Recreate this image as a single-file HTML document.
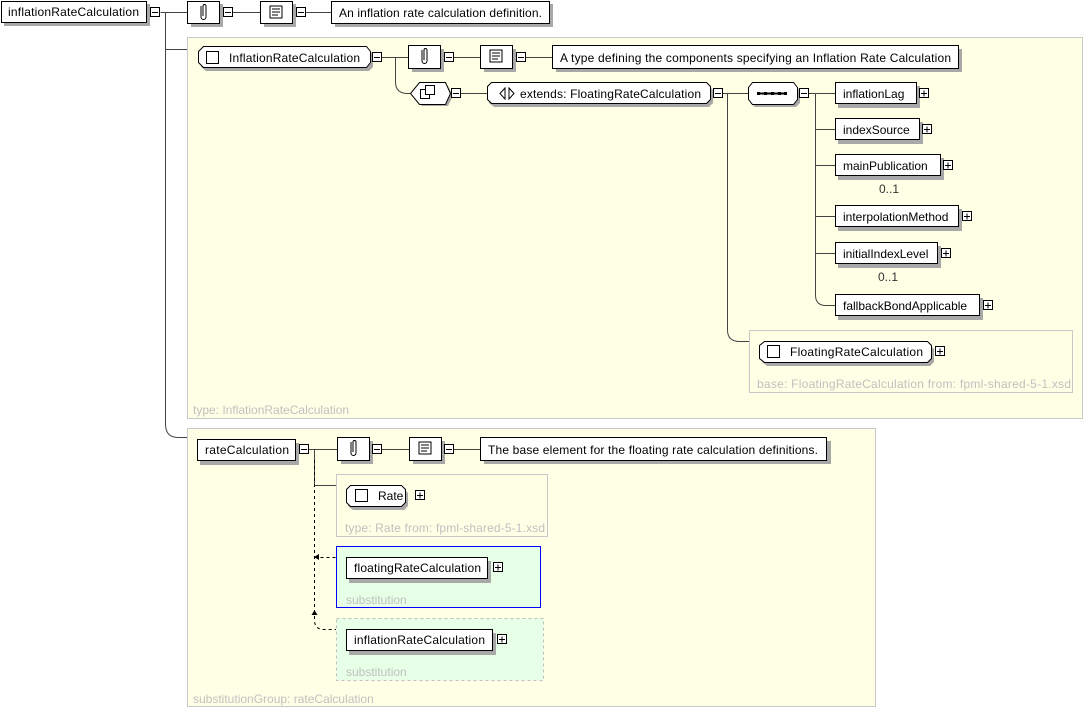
<!DOCTYPE html>
<html><head><style>
body{margin:0;background:#fff;}
svg{display:block;font-family:"Liberation Sans",sans-serif;font-size:12px;}
.b{fill:#fff;stroke:#000;stroke-width:1}
.s{fill:#a8a8a8}
.l{stroke:#444;fill:none;stroke-width:1}
.g{fill:#c0c0c0}
.pm{fill:#fff;stroke:#000}
</style></head><body>
<svg width="1084" height="708" viewBox="0 0 1084 708">
<rect x="187.5" y="37.5" width="895" height="381" fill="#ffffe6" stroke="#c8c8c8"/>
<text x="193" y="414" class="g">type: InflationRateCalculation</text>
<rect x="187.5" y="428.5" width="688" height="278" fill="#ffffe6" stroke="#c8c8c8"/>
<text x="193" y="703" class="g">substitutionGroup: rateCalculation</text>
<rect x="749.5" y="330.5" width="323" height="62" fill="#ffffe6" stroke="#c8c8c8"/>
<text x="757" y="388" class="g" textLength="314">base: FloatingRateCalculation from: fpml-shared-5-1.xsd</text>
<rect x="336.5" y="474.5" width="211" height="62" fill="#ffffe6" stroke="#c8c8c8"/>
<text x="345" y="532" class="g" textLength="200">type: Rate from: fpml-shared-5-1.xsd</text>
<rect x="336.5" y="546.5" width="204" height="61" fill="#e6ffe6" stroke="#0000ff"/>
<text x="346" y="604" class="g">substitution</text>
<rect x="336.5" y="618.5" width="207" height="62" fill="#e6ffe6" stroke="#c0c0c0" stroke-dasharray="3,3"/>
<text x="346" y="676" class="g">substitution</text>

<g class="l">
<path d="M160.5 12.5H187M220 12.5H260M306 12.5H331"/>
<path d="M165.5 12V424Q165.5 437.5 178 437.5H187M165.5 49.5H187"/>
<path d="M382 57.5H408M454 57.5H480M526 57.5H552"/>
<path d="M395.5 57V82Q395.5 93.5 408 93.5H412M461 93.5H487M723 93.5H748M809 93.5H835"/>
<path d="M815.5 93V295Q815.5 305.5 826 305.5H835M815.5 129.5H835M815.5 165.5H835M815.5 216.5H835M815.5 253.5H835"/>
<path d="M727.5 93V330Q727.5 341.5 740 341.5H749"/>
<path d="M309 449.5H337M382 449.5H409M454 449.5H480"/>
<path d="M314.5 449V485.5H336"/>
<path d="M314.5 460V620Q314.5 629.5 324 629.5H336M314.5 557.5H336" stroke="#000" stroke-dasharray="3,3"/>
</g>
<path d="M314 557l5 -3v6z" fill="#000"/>
<path d="M314.5 610l-3 5h6z" fill="#000"/>

<rect x="4" y="4" width="146" height="22" class="s"/>
<rect x="1.5" y="1.5" width="145" height="21" class="b"/>
<text x="8" y="16" textLength="131">inflationRateCalculation</text>
<rect x="150.5" y="7.5" width="9" height="9" class="pm"/><path d="M152 12.5h6" stroke="#000"/>
<rect x="191" y="4" width="32" height="23" class="s"/>
<rect x="187.5" y="1.5" width="32" height="22" class="b"/>
<path d="M201 6v11a2.5 2.5 0 0 0 5 0v-11a1.5 1.5 0 0 0-3 0v10" fill="none" stroke="#000"/>
<rect x="223.5" y="7.5" width="9" height="9" class="pm"/><path d="M225 12.5h6" stroke="#000"/>
<rect x="264" y="4" width="32" height="23" class="s"/>
<rect x="260.5" y="1.5" width="32" height="22" class="b"/>
<path d="M270 6h12v12h-12zM272 9h8M272 12h8M272 15h6" fill="none" stroke="#000"/>
<rect x="296.5" y="7.5" width="9" height="9" class="pm"/><path d="M298 12.5h6" stroke="#000"/>
<rect x="335" y="4" width="218" height="23" class="s"/>
<rect x="331.5" y="1.5" width="218" height="22" class="b"/>
<text x="339" y="17" textLength="203">An inflation rate calculation definition.</text>

<path d="M206 50h163l4 4v13l-4 4h-163l-5-4v-13z" class="s"/>
<path d="M203.5 46.5h163l4 5v11l-4 5h-163l-5-5v-11z" class="b"/>
<rect x="206.5" y="51.5" width="12" height="12" class="pm"/>
<text x="229" y="62" textLength="131">InflationRateCalculation</text>
<rect x="372.5" y="52.5" width="9" height="9" class="pm"/><path d="M374 57.5h6" stroke="#000"/>
<rect x="412" y="49" width="32" height="23" class="s"/>
<rect x="408.5" y="45.5" width="32" height="23" class="b"/>
<path d="M422 50v11a2.5 2.5 0 0 0 5 0v-11a1.5 1.5 0 0 0-3 0v10" fill="none" stroke="#000"/>
<rect x="444.5" y="52.5" width="9" height="9" class="pm"/><path d="M446 57.5h6" stroke="#000"/>
<rect x="484" y="49" width="32" height="23" class="s"/>
<rect x="480.5" y="45.5" width="32" height="23" class="b"/>
<path d="M490 50h12v12h-12zM492 53h8M492 56h8M492 59h6" fill="none" stroke="#000"/>
<rect x="516.5" y="52.5" width="9" height="9" class="pm"/><path d="M518 57.5h6" stroke="#000"/>
<rect x="556" y="49" width="406" height="23" class="s"/>
<rect x="552.5" y="45.5" width="406" height="23" class="b"/>
<text x="560" y="62" textLength="391">A type defining the components specifying an Inflation Rate Calculation</text>

<path d="M422 86h26l5 10l-5 10h-26l-8-10z" class="s"/>
<path d="M419.5 82.5h26l5 11l-5 11h-26l-9-11z" class="b"/>
<rect x="420.5" y="89.5" width="9" height="9" class="pm"/><rect x="425.5" y="85.5" width="9" height="9" class="pm"/>
<rect x="451.5" y="88.5" width="9" height="9" class="pm"/><path d="M453 93.5h6" stroke="#000"/>
<path d="M494 86h215l4 4v13l-4 4h-215l-5-4v-13z" class="s"/>
<path d="M491.5 82.5h215l4 4v13l-4 4h-215l-4-4v-13z" class="b"/>
<path d="M505 88l-5 5.5l5 5.5zM509 88l5 5.5l-5 5.5z" fill="none" stroke="#000"/>
<text x="520" y="98" textLength="181">extends: FloatingRateCalculation</text>
<rect x="713.5" y="88.5" width="9" height="9" class="pm"/><path d="M715 93.5h6" stroke="#000"/>
<path d="M755 86h41l4 5v12l-4 4h-41l-5-4v-12z" class="s"/>
<path d="M752.5 82.5h41l4 5v12l-4 5h-41l-4-5v-12z" class="b"/>
<path d="M758 93.5h27" stroke="#000" stroke-width="2"/>
<rect x="757" y="92" width="3" height="3"/><rect x="764" y="92" width="3" height="3"/><rect x="771" y="92" width="3" height="3"/><rect x="778" y="92" width="3" height="3"/><rect x="784" y="92" width="3" height="3"/>
<rect x="799.5" y="88.5" width="9" height="9" class="pm"/><path d="M801 93.5h6" stroke="#000"/>

<g>
<rect x="838" y="86" width="82" height="22" class="s"/><rect x="835.5" y="82.5" width="81" height="21" class="b"/><text x="843" y="98">inflationLag</text>
<rect x="919.5" y="88.5" width="9" height="9" class="pm"/><path d="M921 93.5h6M924 90.5v6" stroke="#000"/>
<rect x="838" y="122" width="85" height="22" class="s"/><rect x="835.5" y="118.5" width="84" height="21" class="b"/><text x="843" y="134">indexSource</text>
<rect x="922.5" y="124.5" width="9" height="9" class="pm"/><path d="M924 129.5h6M927 126.5v6" stroke="#000"/>
<rect x="838" y="158" width="106" height="22" class="s"/><rect x="835.5" y="154.5" width="105" height="21" class="b"/><text x="843" y="170">mainPublication</text>
<rect x="943.5" y="160.5" width="9" height="9" class="pm"/><path d="M945 165.5h6M948 162.5v6" stroke="#000"/>
<text x="879" y="193" fill="#333">0..1</text>
<rect x="838" y="209" width="124" height="22" class="s"/><rect x="835.5" y="205.5" width="123" height="21" class="b"/><text x="843" y="221">interpolationMethod</text>
<rect x="962.5" y="211.5" width="9" height="9" class="pm"/><path d="M964 216.5h6M967 213.5v6" stroke="#000"/>
<rect x="838" y="246" width="103" height="22" class="s"/><rect x="835.5" y="242.5" width="102" height="21" class="b"/><text x="843" y="258">initialIndexLevel</text>
<rect x="941.5" y="248.5" width="9" height="9" class="pm"/><path d="M943 253.5h6M946 250.5v6" stroke="#000"/>
<text x="878" y="281" fill="#333">0..1</text>
<rect x="838" y="298" width="145" height="22" class="s"/><rect x="835.5" y="294.5" width="144" height="21" class="b"/><text x="843" y="310">fallbackBondApplicable</text>
<rect x="983.5" y="300.5" width="9" height="9" class="pm"/><path d="M985 305.5h6M988 302.5v6" stroke="#000"/>
</g>

<path d="M767 345h163l4 4v13l-4 4h-163l-5-4v-13z" class="s"/>
<path d="M764.5 341.5h163l4 4v13l-4 4h-163l-5-4v-13z" class="b"/>
<rect x="767.5" y="345.5" width="12" height="12" class="pm"/>
<text x="790" y="356" textLength="133">FloatingRateCalculation</text>
<rect x="935.5" y="346.5" width="9" height="9" class="pm"/><path d="M937 351.5h6M940 348.5v6" stroke="#000"/>

<rect x="200" y="443" width="99" height="22" class="s"/>
<rect x="197.5" y="439.5" width="98" height="21" class="b"/>
<text x="205" y="454" textLength="84">rateCalculation</text>
<rect x="299.5" y="444.5" width="9" height="9" class="pm"/><path d="M301 449.5h6" stroke="#000"/>
<rect x="341" y="441" width="32" height="23" class="s"/>
<rect x="337.5" y="437.5" width="32" height="23" class="b"/>
<path d="M351 442v11a2.5 2.5 0 0 0 5 0v-11a1.5 1.5 0 0 0-3 0v10" fill="none" stroke="#000"/>
<rect x="372.5" y="444.5" width="9" height="9" class="pm"/><path d="M374 449.5h6" stroke="#000"/>
<rect x="413" y="441" width="32" height="23" class="s"/>
<rect x="409.5" y="437.5" width="32" height="23" class="b"/>
<path d="M419 442h12v12h-12zM421 445h8M421 448h8M421 451h6" fill="none" stroke="#000"/>
<rect x="444.5" y="444.5" width="9" height="9" class="pm"/><path d="M446 449.5h6" stroke="#000"/>
<rect x="484" y="441" width="347" height="23" class="s"/>
<rect x="480.5" y="437.5" width="346" height="23" class="b"/>
<text x="488" y="454" textLength="330">The base element for the floating rate calculation definitions.</text>

<path d="M353 489h51l4 4v13l-4 4h-51l-5-4v-13z" class="s"/>
<path d="M350.5 485.5h51l4 4v13l-4 4h-51l-4-4v-13z" class="b"/>
<rect x="355.5" y="489.5" width="12" height="12" class="pm"/>
<text x="378" y="500">Rate</text>
<rect x="415.5" y="490.5" width="9" height="9" class="pm"/><path d="M417 495.5h6M420 492.5v6" stroke="#000"/>

<rect x="349" y="561" width="142" height="22" class="s"/><rect x="346.5" y="557.5" width="141" height="21" class="b"/><text x="354" y="572" textLength="127">floatingRateCalculation</text>
<rect x="493.5" y="562.5" width="9" height="9" class="pm"/><path d="M495 567.5h6M498 564.5v6" stroke="#000"/>
<rect x="349" y="633" width="147" height="22" class="s"/><rect x="346.5" y="629.5" width="146" height="21" class="b"/><text x="354" y="644" textLength="131">inflationRateCalculation</text>
<rect x="497.5" y="634.5" width="9" height="9" class="pm"/><path d="M499 639.5h6M502 636.5v6" stroke="#000"/>
</svg>
</body></html>
